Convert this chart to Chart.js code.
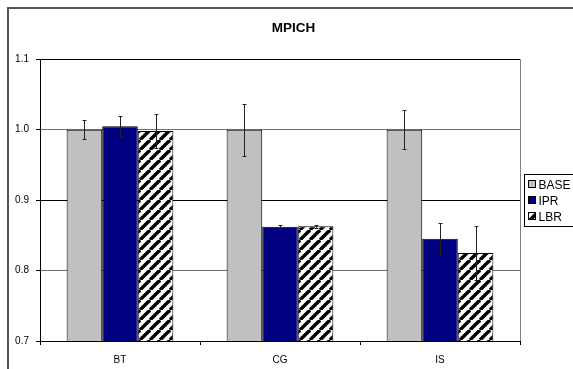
<!DOCTYPE html>
<html>
<head>
<meta charset="utf-8">
<script src="https://cdn.jsdelivr.net/npm/chart.js@4"></script>
<style>
html, body { margin: 0; padding: 0; background: #fff; }
#wrap { width: 573px; height: 369px; }
</style>
</head>
<body>
<div id="wrap"><canvas id="chart" width="573" height="369"></canvas></div>
<script>
const categories = ['BT', 'CG', 'IS'];
const seriesNames = ['BASE', 'IPR', 'LBR'];
const baseValues = [1.000, 1.000, 1.000];
const baseErrors = [0.013, 0.037, 0.028];
const iprValues = [1.005, 0.862, 0.845];
const iprErrors = [0.014, 0.003, 0.022];
const lbrValues = [0.998, 0.863, 0.825];
const lbrErrors = [0.024, 0.002, 0.038];
const yTicks = [0.7, 0.8, 0.9, 1.0, 1.1];

Chart.defaults.font.family = '"Liberation Sans", Arial, sans-serif';
Chart.defaults.color = '#000';

// diagonal hatch used for the LBR bars
function makeStripes() {
    const size = 10;
    const c = document.createElement('canvas');
    c.width = size;
    c.height = size;
    const g = c.getContext('2d');
    g.fillStyle = '#fff';
    g.fillRect(0, 0, size, size);
    g.strokeStyle = '#000';
    g.lineWidth = 3.4;
    for (const k of [-size, 0, size]) {
        g.beginPath();
        g.moveTo(k, size);
        g.lineTo(k + size, 0);
        g.stroke();
    }
    return g.createPattern(c, 'repeat');
}

const frame = {
    id: 'frame',
    beforeDraw(chart) {
        const ctx = chart.ctx;
        ctx.save();
        ctx.fillStyle = '#fff';
        ctx.fillRect(0, 0, chart.width, chart.height);
        ctx.strokeStyle = '#555';
        ctx.lineWidth = 2;
        ctx.beginPath();
        ctx.moveTo(8, chart.height + 5);
        ctx.lineTo(8, 8);
        ctx.lineTo(chart.width + 5, 8);
        ctx.stroke();
        ctx.restore();
    },
    beforeDatasetsDraw(chart) {
        const ctx = chart.ctx, a = chart.chartArea;
        ctx.save();
        ctx.strokeStyle = '#808080';
        ctx.lineWidth = 1;
        ctx.beginPath();
        ctx.moveTo(Math.round(a.right) + 0.5, a.top);
        ctx.lineTo(Math.round(a.right) + 0.5, a.bottom);
        ctx.stroke();
        ctx.restore();
    }
};

const errorBars = {
    id: 'errorBars',
    afterDatasetsDraw(chart) {
        const ctx = chart.ctx, y = chart.scales.y;
        ctx.save();
        ctx.strokeStyle = '#222';
        ctx.lineWidth = 1;
        chart.data.datasets.forEach((ds, i) => {
            const meta = chart.getDatasetMeta(i);
            meta.data.forEach((bar, j) => {
                const v = ds.data[j], e = ds.errors[j];
                const top = Math.round(y.getPixelForValue(v + e)) + 0.5;
                const bot = Math.round(y.getPixelForValue(v - e)) + 0.5;
                const x = Math.round(bar.x) + 0.5;
                ctx.beginPath();
                ctx.moveTo(x, top);
                ctx.lineTo(x, bot);
                ctx.moveTo(x - 2, top);
                ctx.lineTo(x + 2, top);
                ctx.moveTo(x - 2, bot);
                ctx.lineTo(x + 2, bot);
                ctx.stroke();
            });
        });
        ctx.restore();
    }
};

const boxLegend = {
    id: 'boxLegend',
    afterDraw(chart) {
        const ctx = chart.ctx, a = chart.chartArea;
        const sets = chart.data.datasets;
        const rowH = 16;
        const h = rowH * sets.length + 4;
        const left = Math.round(a.right) + 4.5;
        const top = Math.round((a.top + a.bottom) / 2 - h / 2) + 0.5;
        ctx.save();
        ctx.fillStyle = '#fff';
        ctx.fillRect(left, top, 70, h);
        ctx.strokeStyle = '#000';
        ctx.lineWidth = 1;
        ctx.strokeRect(left, top, 70, h);
        ctx.font = '12px "Liberation Sans", Arial, sans-serif';
        ctx.textBaseline = 'middle';
        sets.forEach((ds, i) => {
            const cy = top + 2 + rowH / 2 + i * rowH;
            ctx.fillStyle = ds.backgroundColor;
            ctx.fillRect(left + 4, cy - 4, 7, 7);
            ctx.strokeRect(left + 4, cy - 4, 7, 7);
            ctx.fillStyle = '#000';
            ctx.fillText(ds.label, left + 14, cy + 1);
        });
        ctx.restore();
    }
};

const stripes = makeStripes();

new Chart(document.getElementById('chart'), {
    type: 'bar',
    data: {
        labels: categories,
        datasets: [
            {label: seriesNames[0], data: baseValues, errors: baseErrors, backgroundColor: '#c0c0c0'},
            {label: seriesNames[1], data: iprValues, errors: iprErrors, backgroundColor: '#000080'},
            {label: seriesNames[2], data: lbrValues, errors: lbrErrors, backgroundColor: stripes}
        ]
    },
    options: {
        responsive: false,
        animation: false,
        devicePixelRatio: 1,
        datasets: {
            bar: {
                categoryPercentage: 0.667,
                barPercentage: 1,
                borderColor: '#000',
                borderWidth: 1,
                borderSkipped: 'bottom'
            }
        },
        layout: {padding: {left: 14, right: 0, top: 0, bottom: 0}},
        plugins: {
            legend: {display: false},
            tooltip: {enabled: false},
            title: {
                display: true,
                text: 'MPICH',
                color: '#000',
                font: {size: 13.5, weight: 'bold'},
                padding: {top: 20, bottom: 23}
            }
        },
        scales: {
            x: {
                grid: {drawOnChartArea: false, offset: true, tickLength: 4, color: '#000'},
                border: {color: '#000', width: 1},
                ticks: {font: {size: 10}, padding: 9, color: '#000'},
                afterFit: s => { s.height = 28; }
            },
            y: {
                min: 0.7,
                max: 1.1,
                afterBuildTicks: s => { s.ticks = yTicks.map(v => ({value: v})); },
                grid: {
                    tickLength: 4,
                    color: c => (c.index % 2 === 1 ? '#707070' : '#000'),
                    tickColor: '#000'
                },
                border: {color: '#000', width: 1},
                ticks: {font: {size: 10}, padding: 7, color: '#000', callback: v => v.toFixed(1)},
                afterFit: s => { s.width = 26; }
            },
            yR: {
                type: 'linear',
                position: 'right',
                display: true,
                grid: {display: false},
                border: {display: false},
                ticks: {display: false},
                afterFit: s => { s.width = 53; }
            }
        }
    },
    plugins: [frame, errorBars, boxLegend]
});
</script>
</body>
</html>
